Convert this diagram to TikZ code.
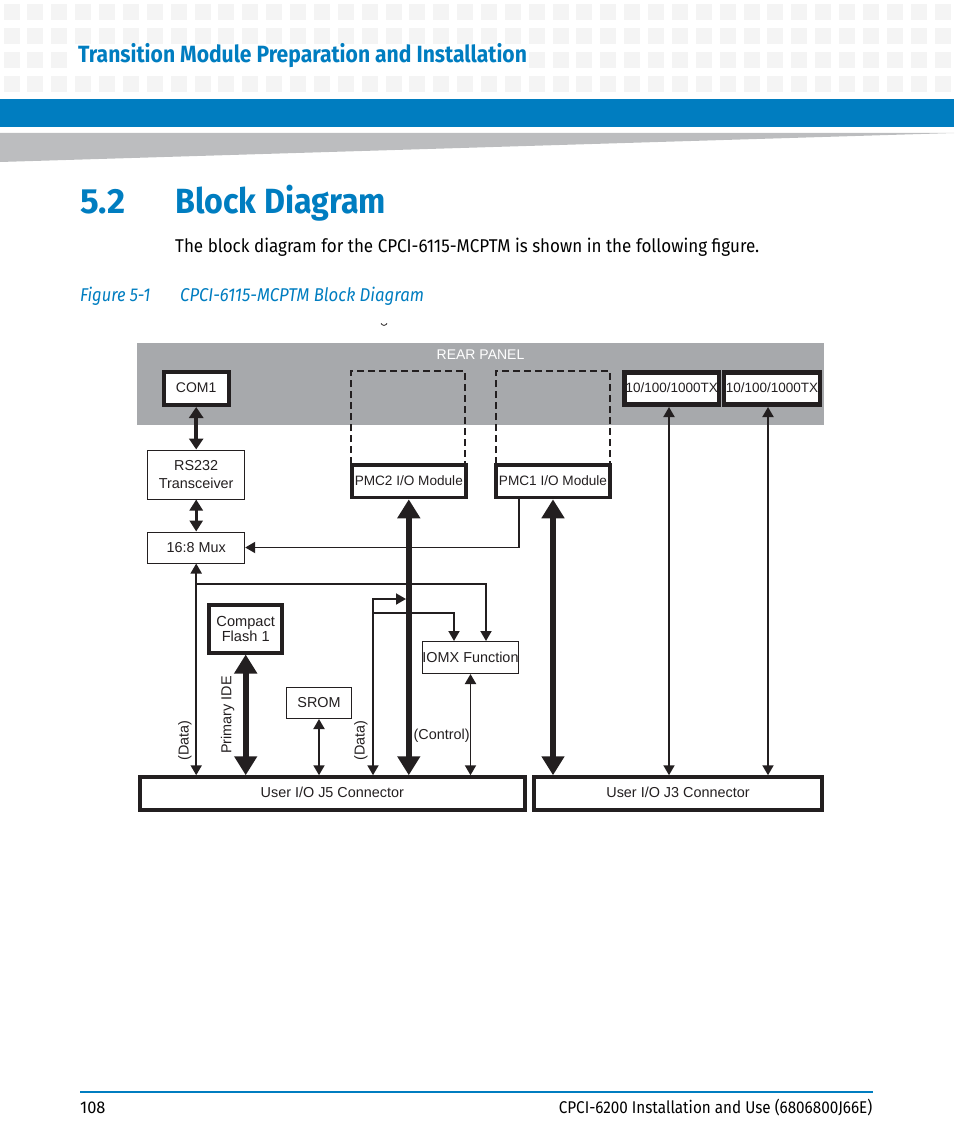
\documentclass[tikz,border=0pt]{standalone}
\usepackage{fontspec}
\setmainfont{Fira Sans}
\newfontfamily\figfont{Liberation Sans}
\usetikzlibrary{arrows.meta}
\definecolor{brandblue}{HTML}{007DC0}
\definecolor{wedgegray}{HTML}{BCBDBF}
\definecolor{panelgray}{HTML}{A7A9AC}
\definecolor{dotgray}{HTML}{F4F4F4}
\definecolor{inkgray}{HTML}{231F20}
\newcommand{\pagefont}[2]{\fontspec{Fira Sans}[FakeStretch=#1]\fontsize{#2}{#2}\selectfont}
\tikzset{
  figbox/.style={draw=inkgray,fill=white,line width=1pt,inner sep=0pt,align=center,text=inkgray,
    font=\figfont\fontsize{14.4}{18}\selectfont},
  heavybox/.style={figbox,line width=4pt},
  portbox/.style={heavybox,minimum height=32.5pt,text depth=2pt},
  pmcbox/.style={portbox,line width=3.5pt,minimum width=114pt,
    font=\figfont\fontsize{13.6}{16}\selectfont},
  txbox/.style={portbox,line width=4.5pt,minimum height=32pt,
    font=\figfont\fontsize{13.5}{16}\selectfont},
  figlabel/.style={inner sep=0pt,text=inkgray,font=\figfont\fontsize{14.4}{16}\selectfont},
  thinlink/.style={draw=inkgray,line width=1.9pt},
  thinboth/.style={thinlink,{Triangle[width=11pt,length=10pt]}-{Triangle[width=11pt,length=10pt]}},
  thinend/.style={thinlink,-{Triangle[width=11pt,length=10pt]}},
  muxboth/.style={draw=inkgray,line width=2.6pt,{Triangle[width=13pt,length=11pt]}-{Triangle[width=13pt,length=11pt]}},
  midboth/.style={draw=inkgray,line width=4.5pt,{Triangle[width=14pt,length=11pt]}-{Triangle[width=14pt,length=11pt]}},
  busboth/.style={draw=inkgray,line width=6.5pt,{Triangle[width=22pt,length=19pt]}-{Triangle[width=22pt,length=19pt]}},
  pagetext/.style={inner sep=0pt,anchor=base west}
}
\begin{document}
\begin{tikzpicture}[x=1pt,y=-1pt]
  \useasboundingbox (0,0) rectangle (954,1145);
  % page header
  \foreach \row in {4,28,52,76}
    \foreach \col in {0,...,39}
      \fill[dotgray] ({3.6+23.87*\col},\row) rectangle ++(16,16);
  \fill[white] (70,50) rectangle (528,69);
  \fill[brandblue] (0,99) rectangle (954,127);
  \fill[wedgegray] (0,133) -- (954,133) -- (0,162) -- cycle;
  \node[pagetext,text=brandblue] (chapter) at (78,62.5)
    {\pagefont{0.898}{23.5}\bfseries Transition Module Preparation and Installation};
  \node[pagetext,text=brandblue] (secnum) at (80,213)
    {\pagefont{1.0}{35}\bfseries 5.2};
  \node[pagetext,text=brandblue] (sectitle) at (175,213)
    {\pagefont{0.92}{35}\bfseries Block Diagram};
  \node[pagetext,text=black] (intro) at (175,252)
    {\pagefont{0.92}{18.5}The block diagram for the CPCI-6115-MCPTM is shown in the following figure.};
  \node[pagetext,text=brandblue] (fignum) at (80,301)
    {\pagefont{0.89}{18.5}\itshape Figure 5-1};
  \node[pagetext,text=brandblue] (figtitle) at (180,301)
    {\pagefont{0.906}{18.5}\itshape CPCI-6115-MCPTM Block Diagram};
  \draw[inkgray,line width=0.8pt] (381,323.5) .. controls (383,326) and (385,326) .. (387,323.5);
  % rear panel
  \fill[panelgray] (137,343) rectangle (824,425);
  \node[figlabel,text=white,font=\figfont\fontsize{14}{16}\selectfont] (rear) at (480.5,354.5) {REAR PANEL};
  \draw[inkgray,line width=2pt,dash pattern=on 7pt off 4pt] (351,464) |- (465,371) -- (465,464);
  \draw[inkgray,line width=2pt,dash pattern=on 7pt off 4pt] (496,464) |- (610,371) -- (610,464);
  % boxes
  \node[portbox,minimum width=65pt,minimum height=33pt,font=\figfont\fontsize{14}{16}\selectfont] (com1) at (196.2,388.5) {COM1};
  \node[figbox,minimum width=97pt,minimum height=49pt] (rs232) at (196.2,474.5) {RS232\\Transceiver};
  \node[figbox,minimum width=97pt,minimum height=31pt] (mux) at (196.2,547.5) {16:8 Mux};
  \node[pmcbox] (pmc2) at (408.8,481.3) {PMC2 I/O Module};
  \node[pmcbox] (pmc1) at (553,481.3) {PMC1 I/O Module};
  \node[txbox,minimum width=94.5pt] (tx1) at (671.7,388.3) {10/100/1000TX};
  \node[txbox,minimum width=96pt] (tx2) at (772,388.3) {10/100/1000TX};
  \node[heavybox,minimum width=73pt,minimum height=48pt,font=\figfont\fontsize{14.6}{15}\selectfont] (flash) at (245.7,628.5) {Compact\\Flash 1};
  \node[figbox,minimum width=65pt,minimum height=31pt] (srom) at (319,703) {SROM};
  \node[figbox,minimum width=96pt,minimum height=32pt] (iomx) at (470.5,657.5) {IOMX Function};
  \node[portbox,minimum width=385pt] (j5) at (332.3,793.5) {User I/O J5 Connector};
  \node[portbox,minimum width=288pt] (j3) at (678,793.5) {User I/O J3 Connector};
  % side labels
  \node[figlabel,rotate=90] (datal) at (185,740.7) {(Data)};
  \node[figlabel,rotate=90] (ide) at (227.7,715) {Primary IDE};
  \node[figlabel,rotate=90] (datar) at (361,740.7) {(Data)};
  \node[figlabel] (ctrl) at (441.7,735.7) {(Control)};
  % junctions
  \coordinate (muxtap) at (196.2,584);
  \coordinate (datatap) at (373,613.3);
  \coordinate (dataup) at (373,599);
  \coordinate (busin) at (406,599);
  \coordinate (pmcdrop) at (519.3,548);
  \coordinate (iomxa) at (486,641);
  \coordinate (iomxb) at (454,641);
  \coordinate (tx1port) at (669,407);
  \coordinate (tx2port) at (768,407);
  % links
  \draw[midboth] (com1.south) -- (rs232.north);
  \draw[muxboth] (rs232.south) -- (mux.north);
  \draw[thinboth] (mux.south) -- (mux.south |- j5.north);
  \draw[thinend] (muxtap) -| (iomxa);
  \draw[busboth] (pmc2.south) -- (pmc2.south |- j5.north);
  \draw[busboth] (pmc1.south) -- (pmc1.south |- j3.north);
  \draw[busboth,line width=6pt] (flash.south) -- (flash.south |- j5.north);
  \draw[thinboth] (srom.south) -- (srom.south |- j5.north);
  \draw[thinboth] (iomx.south) -- (iomx.south |- j5.north);
  \draw[thinboth] (dataup |- j5.north) -- (dataup) -- (busin);
  \draw[thinend] (datatap) -| (iomxb);
  \draw[thinboth] (tx1port) -- (tx1port |- j3.north);
  \draw[thinboth] (tx2port) -- (tx2port |- j3.north);
  \draw[thinend] (pmc1.south -| pmcdrop) |- (mux.east);
  % page footer
  \draw[brandblue,line width=1.5pt] (80,1092) -- (873,1092);
  \node[pagetext,text=black] (pageno) at (80,1113) {\pagefont{0.965}{17}108};
  \node[inner sep=0pt,anchor=base east,text=black] (footer) at (872.5,1113)
    {\pagefont{0.897}{17}CPCI-6200 Installation and Use (6806800J66E)};
\end{tikzpicture}
\end{document}
